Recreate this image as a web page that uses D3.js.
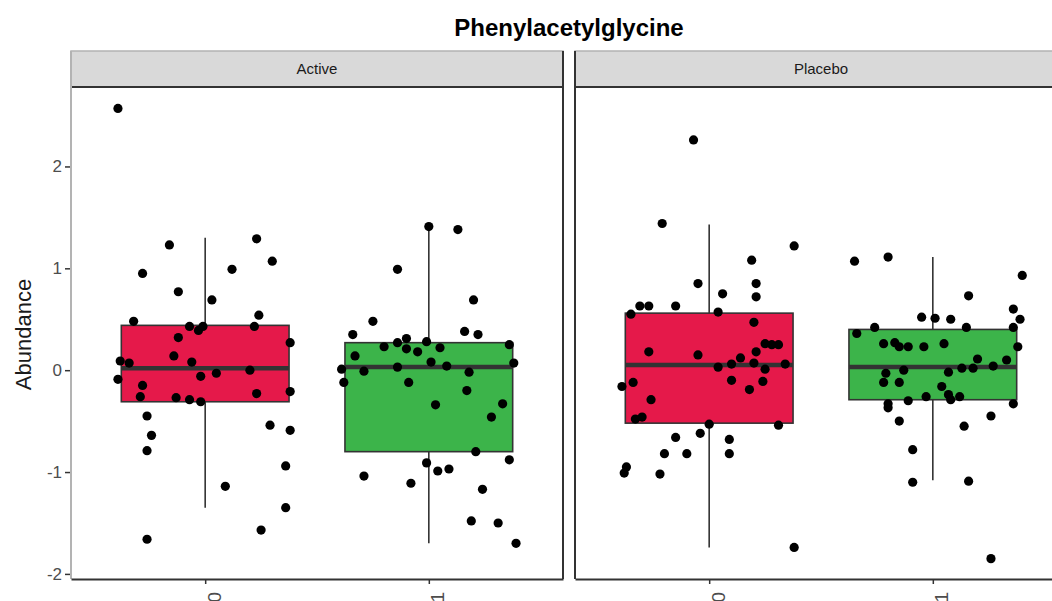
<!DOCTYPE html>
<html>
<head>
<meta charset="utf-8">
<script src="https://cdn.jsdelivr.net/npm/d3@7"></script>
<style>
  body { margin: 0; background: #fff; }
  text { font-family: "Liberation Sans", Arial, sans-serif; }
</style>
</head>
<body>
<div id="chart"></div>
<script>
// facets and x categories
var facets = ["Active", "Placebo"];
var groups = ["0", "1"];
var yTicks = [-2, -1, 0, 1, 2];

// box statistics, [facet][group]
var lowerWhisker = [[-1.35, -1.70], [-1.74, -1.08]];
var q1 = [[-0.31, -0.80], [-0.52, -0.29]];
var medians = [[0.02, 0.03], [0.05, 0.03]];
var q3 = [[0.44, 0.27], [0.56, 0.40]];
var upperWhisker = [[1.30, 1.41], [1.43, 1.11]];

// jittered points: [jitter offset, abundance]
var active0 = [
    [-0.39, 2.57], [-0.16, 1.23], [-0.28, 0.95], [-0.12, 0.77], [0.23, 1.29], [0.12, 0.99],
    [0.30, 1.07], [0.03, 0.69], [-0.32, 0.48], [0.24, 0.54], [0.22, 0.43], [-0.07, 0.43],
    [-0.03, 0.39], [-0.01, 0.43], [-0.12, 0.32], [0.38, 0.27], [-0.38, 0.09], [-0.34, 0.07],
    [-0.14, 0.14], [-0.06, 0.08], [-0.39, -0.09], [-0.28, -0.15], [-0.29, -0.26], [-0.13, -0.27],
    [-0.07, -0.29], [-0.02, -0.31], [-0.02, -0.06], [0.05, -0.03], [0.20, 0.00], [0.23, -0.23],
    [0.38, -0.21], [-0.26, -0.45], [-0.24, -0.64], [-0.26, -0.79], [0.29, -0.54], [0.38, -0.59],
    [0.36, -0.94], [0.09, -1.14], [0.36, -1.35], [0.25, -1.57], [-0.26, -1.66]
];
var active1 = [
    [0.00, 1.41], [0.13, 1.38], [-0.14, 0.99], [0.20, 0.69], [-0.25, 0.48], [-0.34, 0.35],
    [0.16, 0.38], [0.22, 0.35], [-0.20, 0.23], [-0.14, 0.27], [-0.10, 0.31], [-0.10, 0.21],
    [-0.05, 0.18], [-0.01, 0.28], [0.05, 0.22], [0.36, 0.25], [-0.33, 0.14], [-0.39, 0.01],
    [-0.29, -0.01], [-0.38, -0.12], [-0.14, 0.03], [0.01, 0.08], [0.08, 0.04], [0.38, 0.07],
    [0.18, -0.02], [-0.09, -0.12], [0.17, -0.20], [0.03, -0.34], [0.33, -0.33], [0.28, -0.46],
    [0.21, -0.80], [0.36, -0.88], [-0.01, -0.91], [0.04, -0.99], [0.09, -0.97], [-0.29, -1.04],
    [-0.08, -1.11], [0.24, -1.17], [0.19, -1.48], [0.31, -1.50], [0.39, -1.70]
];
var placebo0 = [
    [-0.07, 2.26], [-0.21, 1.44], [0.38, 1.22], [0.19, 1.08], [-0.05, 0.85], [0.21, 0.85],
    [0.06, 0.75], [0.21, 0.72], [-0.31, 0.63], [-0.27, 0.63], [-0.15, 0.63], [-0.35, 0.55],
    [0.04, 0.57], [0.20, 0.47], [-0.27, 0.18], [-0.05, 0.15], [0.21, 0.18], [0.25, 0.26],
    [0.28, 0.25], [0.31, 0.25], [0.14, 0.12], [0.20, 0.07], [0.10, 0.06], [0.04, 0.03],
    [0.34, 0.06], [0.25, 0.01], [-0.34, -0.12], [-0.39, -0.16], [0.10, -0.10], [0.24, -0.11],
    [0.18, -0.19], [-0.26, -0.29], [-0.33, -0.48], [-0.30, -0.46], [0.00, -0.53], [0.31, -0.54],
    [-0.04, -0.62], [-0.15, -0.66], [0.09, -0.68], [-0.20, -0.82], [-0.10, -0.82], [0.09, -0.82],
    [-0.37, -0.95], [-0.38, -1.01], [-0.22, -1.02], [0.38, -1.74]
];
var placebo1 = [
    [-0.35, 1.07], [-0.20, 1.11], [0.40, 0.93], [0.16, 0.73], [0.36, 0.60], [0.39, 0.50],
    [-0.05, 0.52], [0.01, 0.51], [0.08, 0.50], [0.15, 0.42], [0.36, 0.42], [-0.26, 0.42],
    [-0.34, 0.36], [-0.22, 0.26], [-0.17, 0.27], [-0.15, 0.23], [-0.11, 0.23], [-0.04, 0.23],
    [0.05, 0.26], [0.38, 0.23], [0.20, 0.11], [0.33, 0.10], [0.27, 0.04], [0.13, 0.02],
    [0.18, 0.02], [-0.13, 0.00], [0.07, -0.02], [-0.21, -0.03], [-0.22, -0.12], [-0.15, -0.12],
    [0.04, -0.16], [0.07, -0.24], [0.12, -0.26], [0.08, -0.29], [-0.03, -0.26], [-0.11, -0.30],
    [-0.20, -0.33], [-0.20, -0.37], [0.36, -0.33], [0.26, -0.45], [-0.15, -0.50], [0.14, -0.55],
    [-0.09, -0.78], [-0.09, -1.10], [0.16, -1.09], [0.26, -1.85]
];
var points = [[active0, active1], [placebo0, placebo1]];

var fills = ["#E5194A", "#3CB44A"];

var svgWidth = 1052;
var svgHeight = 601;

var panelTop = 87;
var panelBottom = 579;
var panelWidth = 492;
var panelLeft = [71, 575];
var stripHeight = 36;

var svg = d3.select("#chart")
    .append("svg")
    .attr("width", svgWidth)
    .attr("height", svgHeight);

var yScale = d3.scaleLinear()
    .domain([-2.05, 2.78])
    .range([panelBottom, panelTop]);

// title
svg.append("text")
    .attr("x", 569)
    .attr("y", 36)
    .attr("text-anchor", "middle")
    .attr("font-size", 24)
    .attr("font-weight", "bold")
    .attr("fill", "#000")
    .text("Phenylacetylglycine");

// y axis title
svg.append("text")
    .attr("transform", "translate(31," + yScale(0.35) + ") rotate(-90)")
    .attr("text-anchor", "middle")
    .attr("font-size", 22)
    .attr("fill", "#1a1a1a")
    .text("Abundance");

facets.forEach(function (facet, f) {
    var x0 = panelLeft[f];
    var xScale = d3.scaleLinear()
        .domain([0.4, 2.6])
        .range([x0, x0 + panelWidth]);
    var g = svg.append("g").attr("class", "panel");

    // strip
    g.append("rect")
        .attr("x", x0)
        .attr("y", panelTop - stripHeight)
        .attr("width", panelWidth)
        .attr("height", stripHeight)
        .attr("fill", "#d9d9d9")
        .attr("stroke", "#b3b3b3")
        .attr("stroke-width", 1.5);
    g.append("text")
        .attr("x", x0 + panelWidth / 2)
        .attr("y", panelTop - stripHeight / 2)
        .attr("dy", "0.35em")
        .attr("text-anchor", "middle")
        .attr("font-size", 15)
        .attr("fill", "#1a1a1a")
        .text(facet);

    // boxes
    groups.forEach(function (grp, i) {
        var cx = xScale(i + 1);
        var halfW = xScale(1.375) - xScale(1);
        g.append("line")
            .attr("x1", cx).attr("x2", cx)
            .attr("y1", yScale(upperWhisker[f][i]))
            .attr("y2", yScale(lowerWhisker[f][i]))
            .attr("stroke", "#333")
            .attr("stroke-width", 1.6);
        g.append("rect")
            .attr("x", cx - halfW)
            .attr("y", yScale(q3[f][i]))
            .attr("width", halfW * 2)
            .attr("height", yScale(q1[f][i]) - yScale(q3[f][i]))
            .attr("fill", fills[i])
            .attr("stroke", "#333")
            .attr("stroke-width", 1.6);
        g.append("line")
            .attr("x1", cx - halfW).attr("x2", cx + halfW)
            .attr("y1", yScale(medians[f][i]))
            .attr("y2", yScale(medians[f][i]))
            .attr("stroke", "#333")
            .attr("stroke-width", 4.5);

        g.append("g")
            .selectAll("circle")
            .data(points[f][i])
            .enter()
            .append("circle")
            .attr("cx", d => xScale(i + 1 + d[0]))
            .attr("cy", d => yScale(d[1]))
            .attr("r", 4.6)
            .attr("fill", "#000");
    });

    // panel border
    g.append("line")
        .attr("x1", x0).attr("x2", x0 + panelWidth)
        .attr("y1", panelTop).attr("y2", panelTop)
        .attr("stroke", "#333").attr("stroke-width", 2);
    g.append("line")
        .attr("x1", x0 + panelWidth).attr("x2", x0 + panelWidth)
        .attr("y1", panelTop - stripHeight).attr("y2", panelBottom)
        .attr("stroke", "#333").attr("stroke-width", 2);
    g.append("line")
        .attr("x1", x0).attr("x2", x0)
        .attr("y1", panelTop - stripHeight).attr("y2", panelBottom)
        .attr("stroke", f === 0 ? "#b3b3b3" : "#333").attr("stroke-width", 2);

    // bottom axis
    var bottomAxis = d3.axisBottom(xScale)
        .tickValues([1, 2])
        .tickFormat((d, k) => groups[k])
        .tickSize(5)
        .tickSizeOuter(0);
    var xAxis = g.append("g")
        .attr("transform", `translate(0, ${panelBottom})`)
        .call(bottomAxis);
    xAxis.select(".domain").attr("stroke", "#333").attr("stroke-width", 2);
    xAxis.selectAll(".tick line").attr("stroke", "#333").attr("stroke-width", 1.5);
    xAxis.selectAll(".tick text")
        .attr("font-size", 19)
        .attr("fill", "#4d4d4d")
        .attr("text-anchor", "end")
        .attr("transform", "rotate(-90)")
        .attr("x", -13)
        .attr("y", 15)
        .attr("dy", "0");

    // left axis only on first panel
    if (f === 0) {
        var leftAxis = d3.axisLeft(yScale)
            .tickValues(yTicks)
            .tickFormat(d => String(d))
            .tickSize(5)
            .tickSizeOuter(0);
        var yAxis = g.append("g")
            .attr("transform", `translate(${x0 - 1}, 0)`)
            .call(leftAxis);
        yAxis.select(".domain").remove();
        yAxis.selectAll(".tick line").attr("stroke", "#333").attr("stroke-width", 1.5);
        yAxis.selectAll(".tick text")
            .attr("font-size", 17)
            .attr("fill", "#4d4d4d");
    }
});
</script>
</body>
</html>
